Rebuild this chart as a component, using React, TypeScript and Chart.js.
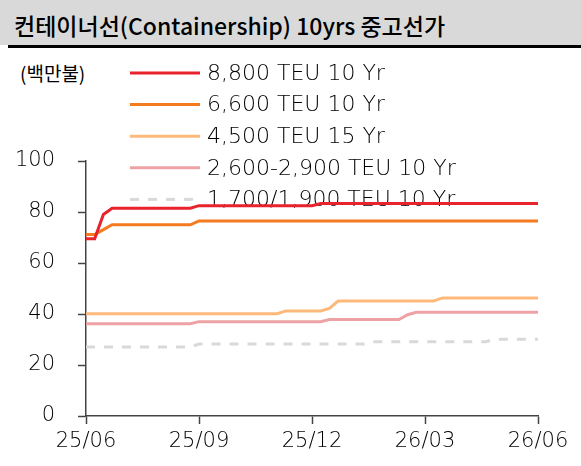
import React, { useEffect, useRef } from 'react';
import { Chart, registerables } from 'chart.js';

Chart.register(...registerables);

// ---- data ----
const titleText = '컨테이너선(Containership) 10yrs 중고선가';
const unitText = '(백만불)';
const xTickLabels = ['25/06', '25/09', '25/12', '26/03', '26/06'];
const weeksPerQuarter = 13;
const yTicks = [0, 20, 40, 60, 80, 100];

const seriesNames = [
  '8,800 TEU 10 Yr',
  '6,600 TEU 10 Yr',
  '4,500 TEU 15 Yr',
  '2,600-2,900 TEU 10 Yr',
  '1,700/1,900 TEU 10 Yr',
];

// weekly values, 25/06 .. 26/06 (53 points)
const teu8800 = [
  69.5, 69.5, 79, 81.5, 81.5, 81.5, 81.5, 81.5, 81.5, 81.5, 81.5, 81.5, 81.5,
  82.5, 82.5, 82.5, 82.5, 82.5, 82.5, 82.5, 82.5, 82.5, 82.5, 82.5, 82.5, 82.5, 82.5,
  83.3, 83.3, 83.3, 83.3, 83.3, 83.3, 83.3, 83.3, 83.3, 83.3, 83.3, 83.3, 83.3,
  83.3, 83.3, 83.3, 83.3, 83.3, 83.3, 83.3, 83.3, 83.3, 83.3, 83.3, 83.3, 83.3,
];
const teu6600 = [
  71.2, 71.2, 73.1, 75, 75, 75, 75, 75, 75, 75, 75, 75, 75,
  76.5, 76.5, 76.5, 76.5, 76.5, 76.5, 76.5, 76.5, 76.5, 76.5, 76.5, 76.5, 76.5,
  76.5, 76.5, 76.5, 76.5, 76.5, 76.5, 76.5, 76.5, 76.5, 76.5, 76.5, 76.5, 76.5,
  76.5, 76.5, 76.5, 76.5, 76.5, 76.5, 76.5, 76.5, 76.5, 76.5, 76.5, 76.5, 76.5, 76.5,
];
const teu4500 = [
  40.1, 40.1, 40.1, 40.1, 40.1, 40.1, 40.1, 40.1, 40.1, 40.1, 40.1, 40.1, 40.1,
  40.1, 40.1, 40.1, 40.1, 40.1, 40.1, 40.1, 40.1, 40.1, 40.1,
  41.2, 41.2, 41.2, 41.2, 41.2, 42.2,
  45.1, 45.1, 45.1, 45.1, 45.1, 45.1, 45.1, 45.1, 45.1, 45.1, 45.1, 45.1,
  46.3, 46.3, 46.3, 46.3, 46.3, 46.3, 46.3, 46.3, 46.3, 46.3, 46.3, 46.3,
];
const teu2600 = [
  36.2, 36.2, 36.2, 36.2, 36.2, 36.2, 36.2, 36.2, 36.2, 36.2, 36.2, 36.2, 36.2,
  37, 37, 37, 37, 37, 37, 37, 37, 37, 37, 37, 37, 37, 37, 37,
  37.8, 37.8, 37.8, 37.8, 37.8, 37.8, 37.8, 37.8, 37.8, 39.7,
  40.7, 40.7, 40.7, 40.7, 40.7, 40.7, 40.7, 40.7, 40.7, 40.7, 40.7, 40.7, 40.7, 40.7, 40.7,
];
const teu1700 = [
  27.1, 27.1, 27.1, 27.1, 27.1, 27.1, 27.1, 27.1, 27.1, 27.1, 27.1, 27.1, 27.1,
  28.2, 28.2, 28.2, 28.2, 28.2, 28.2, 28.2, 28.2, 28.2, 28.2, 28.2, 28.2, 28.2,
  28.2, 28.2, 28.2, 28.2, 28.2, 28.2, 28.2,
  29.1, 29.1, 29.1, 29.1, 29.1, 29.1, 29.1, 29.1, 29.1, 29.1, 29.1, 29.1, 29.1, 29.1,
  30.1, 30.1, 30.1, 30.1, 30.1, 30.1,
];

const seriesValues = [teu8800, teu6600, teu4500, teu2600, teu1700];
const seriesColors = ['#e8232b', '#f47b20', '#fdb97b', '#eea2a5', '#d9d9d9'];
const seriesDash = [[], [], [], [], [9, 9]];

const TICK_FONT = '"DejaVu Sans", sans-serif';
const TEXT_COLOR = '#000000';
const AXIS_COLOR = '#444444';

const legendPlugin = {
  id: 'sideLegend',
  beforeDatasetsDraw(chart: any) {
    const ctx = chart.ctx;
    ctx.save();
    chart.data.datasets.forEach((ds: any, i: number) => {
      const y = 73 + i * 31.6;
      ctx.strokeStyle = ds.borderColor;
      ctx.lineWidth = ds.borderWidth;
      ctx.setLineDash(ds.borderDash || []);
      ctx.beginPath();
      ctx.moveTo(130, y);
      ctx.lineTo(200, y);
      ctx.stroke();
      ctx.setLineDash([]);
      ctx.fillStyle = TEXT_COLOR;
      ctx.font = `300 22px ${TICK_FONT}`;
      ctx.textAlign = 'left';
      ctx.textBaseline = 'middle';
      ctx.fillText(ds.label, 207, y + 1);
    });
    ctx.restore();
  },
};

export default function App() {
  const canvasRef = useRef<HTMLCanvasElement | null>(null);

  useEffect(() => {
    const canvas = canvasRef.current;
    if (!canvas) return;
    const chart = new Chart(canvas, {
      type: 'line',
      data: {
        datasets: seriesNames.map((name, i) => ({
          label: name,
          data: seriesValues[i].map((v, w) => ({ x: w, y: v })),
          borderColor: seriesColors[i],
          backgroundColor: seriesColors[i],
          borderWidth: 3,
          borderDash: seriesDash[i],
          pointRadius: 0,
          tension: 0,
          fill: false,
        })),
      },
      options: {
        animation: false,
        responsive: false,
        devicePixelRatio: 1,
        layout: { padding: { left: 0, top: 161, right: 43, bottom: 0 } },
        plugins: {
          legend: { display: false },
          tooltip: { enabled: false },
          title: { display: false },
        },
        scales: {
          x: {
            type: 'linear',
            min: 0,
            max: (xTickLabels.length - 1) * weeksPerQuarter,
            afterFit: (scale: any) => {
              scale.height = 50;
            },
            afterBuildTicks: (scale: any) => {
              scale.ticks = xTickLabels.map((_, i) => ({ value: i * weeksPerQuarter }));
            },
            ticks: {
              autoSkip: false,
              maxRotation: 0,
              padding: 5,
              color: TEXT_COLOR,
              font: { family: TICK_FONT, size: 21, weight: '300' },
              callback: (v: any) => xTickLabels[Math.round(Number(v) / weeksPerQuarter)],
            },
            grid: {
              display: true,
              drawOnChartArea: false,
              drawTicks: true,
              tickLength: 8,
              tickColor: AXIS_COLOR,
              tickWidth: 1.5,
            },
            border: { display: true, color: AXIS_COLOR, width: 1.5 },
          },
          y: {
            type: 'linear',
            min: 0,
            max: 100,
            afterFit: (scale: any) => {
              scale.width = 86;
            },
            afterBuildTicks: (scale: any) => {
              scale.ticks = yTicks.map((v) => ({ value: v }));
            },
            ticks: {
              padding: 23,
              color: TEXT_COLOR,
              font: { family: TICK_FONT, size: 21, weight: '300' },
            },
            grid: {
              display: true,
              drawOnChartArea: false,
              drawTicks: true,
              tickLength: 8,
              tickColor: AXIS_COLOR,
              tickWidth: 1.5,
            },
            border: { display: true, color: AXIS_COLOR, width: 1.5 },
          },
        },
      } as any,
      plugins: [legendPlugin],
    });
    return () => chart.destroy();
  }, []);

  return (
    <div
      style={{
        position: 'fixed',
        left: 0,
        top: 0,
        width: 581,
        height: 466,
        background: '#ffffff',
        overflow: 'hidden',
      }}
    >
      <div
        style={{
          position: 'absolute',
          left: 0,
          top: 0,
          width: 581,
          height: 45,
          background: '#d9d9d9',
        }}
      />
      <div
        style={{
          position: 'absolute',
          left: 8,
          top: 45,
          width: 573,
          height: 3,
          background: '#000000',
        }}
      />
      <div
        style={{
          position: 'absolute',
          left: 14,
          top: 0,
          height: 45,
          lineHeight: '50px',
          fontFamily: '"Noto Sans CJK KR", sans-serif',
          fontWeight: 500,
          fontSize: 23,
          letterSpacing: 0,
          color: '#000000',
          whiteSpace: 'nowrap',
        }}
      >
        {titleText}
      </div>
      <div
        style={{
          position: 'absolute',
          left: 20,
          top: 59,
          fontFamily: '"Noto Sans CJK KR", sans-serif',
          fontSize: 19,
          lineHeight: '28px',
          color: '#000000',
          whiteSpace: 'nowrap',
        }}
      >
        {unitText}
      </div>
      <canvas
        ref={canvasRef}
        width={581}
        height={466}
        style={{ position: 'absolute', left: 0, top: 0, width: 581, height: 466 }}
      />
    </div>
  );
}
